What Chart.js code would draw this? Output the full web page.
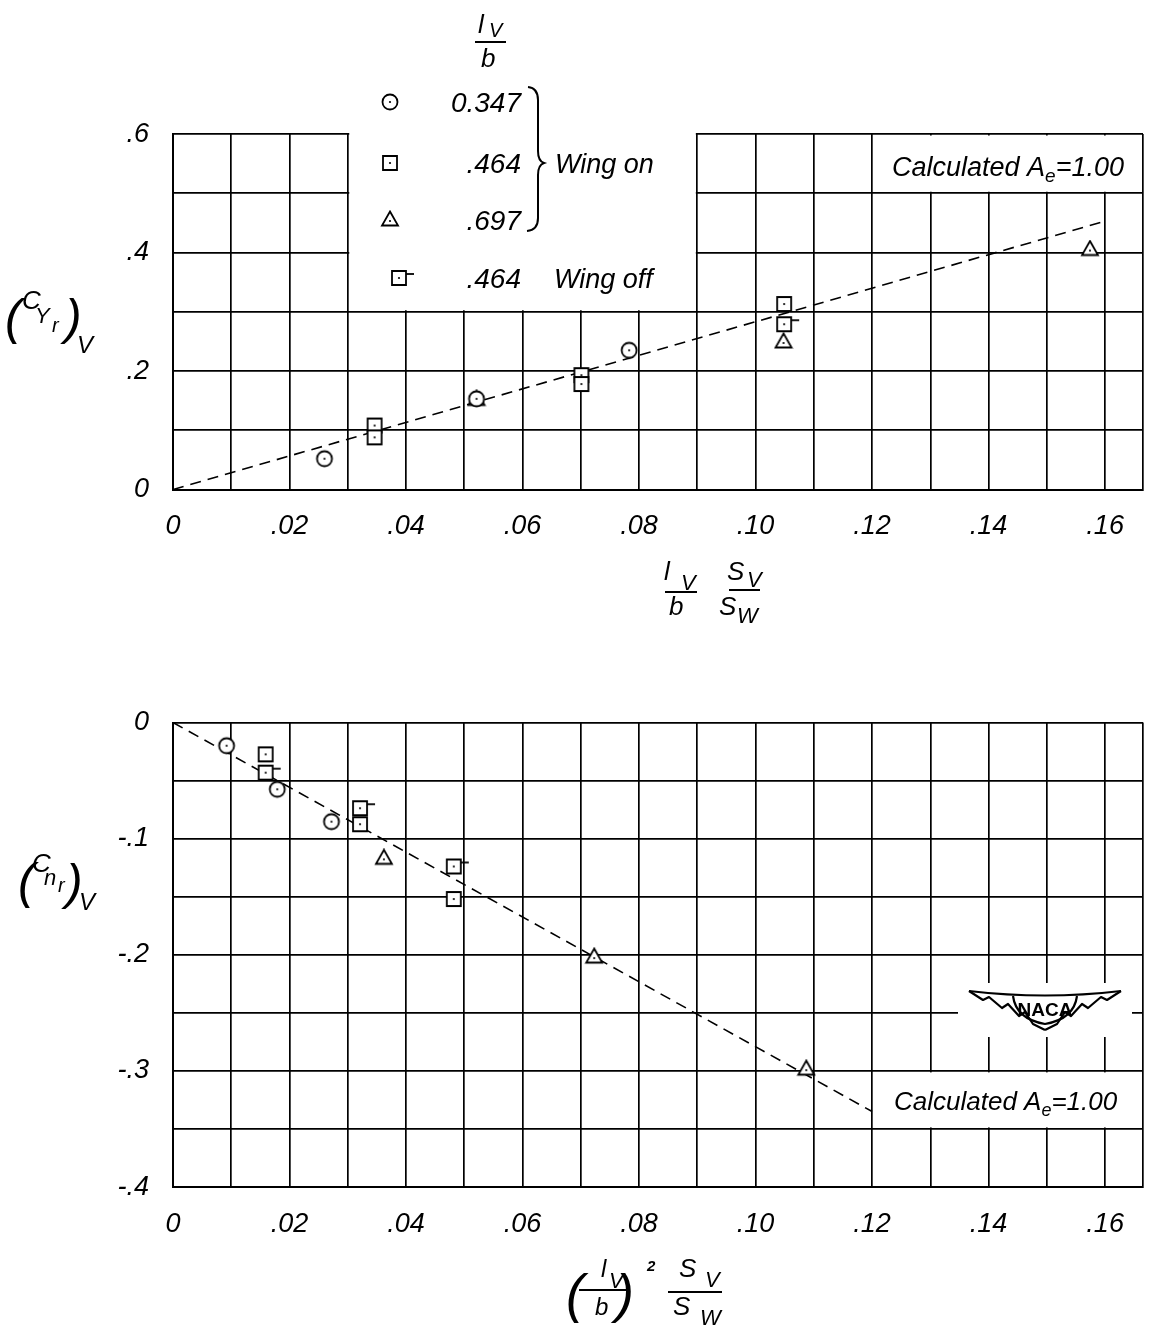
<!DOCTYPE html>
<html><head><meta charset="utf-8">
<script src="https://cdn.jsdelivr.net/npm/chart.js@4.4.1/dist/chart.umd.min.js"></script>
<style>
html,body{margin:0;padding:0;background:#fff;}
body{width:1163px;height:1332px;position:relative;overflow:hidden;}
canvas{position:absolute;left:0;}
#c1{top:0;} #c2{top:650px;}
</style></head><body>
<canvas id="c1" width="1163" height="650"></canvas>
<canvas id="c2" width="1163" height="682"></canvas>
<script>
const FONT = "'Liberation Sans'";

// ---- grid / tick arrays ----
const xFrameMax = 0.1665;
const xGrid = [0, 0.01, 0.02, 0.03, 0.04, 0.05, 0.06, 0.07, 0.08, 0.09, 0.10, 0.11, 0.12, 0.13, 0.14, 0.15, 0.16, xFrameMax];
const xTickValues = [0, 0.02, 0.04, 0.06, 0.08, 0.10, 0.12, 0.14, 0.16];
const xTickLabels = ['0', '.02', '.04', '.06', '.08', '.10', '.12', '.14', '.16'];
const topYGrid = [0, 0.1, 0.2, 0.3, 0.4, 0.5, 0.6];
const topYTickValues = [0, 0.2, 0.4, 0.6];
const topYTickLabels = ['0', '.2', '.4', '.6'];
const botYGrid = [0, -0.05, -0.1, -0.15, -0.2, -0.25, -0.3, -0.35, -0.4];
const botYTickValues = [0, -0.1, -0.2, -0.3, -0.4];
const botYTickLabels = ['0', '-.1', '-.2', '-.3', '-.4'];

// ---- legend ----
const legendRatios = ['0.347', '.464', '.697', '.464'];
const legendGroupOn = 'Wing on';
const legendGroupOff = 'Wing off';
const calcLabel = ['Calculated ', 'A', 'e', '=1.00'];

// ---- top chart: (CYr)V vs lV/b * SV/SW ----
const r347X = [0.026, 0.0521, 0.0783];
const r347CY = [0.052, 0.153, 0.235];
const r464X = [0.0346, 0.0346, 0.0701, 0.0701, 0.1049];
const r464CY = [0.108, 0.088, 0.193, 0.178, 0.313];
const r697X = [0.0521, 0.1048, 0.1574];
const r697CY = [0.152, 0.249, 0.405];
const off464X = [0.1049];
const off464CY = [0.279];
const calcTopX = [0, 0.16];
const calcTopCY = [0, 0.453];

// ---- bottom chart: (Cnr)V vs (lV/b)^2 * SV/SW ----
const r347X2 = [0.0092, 0.0179, 0.0272];
const r347CN = [-0.020, -0.0575, -0.0854];
const r464X2 = [0.0159, 0.0321, 0.0482];
const r464CN = [-0.0274, -0.0876, -0.152];
const r697X2 = [0.0362, 0.0723, 0.1087];
const r697CN = [-0.117, -0.202, -0.2985];
const off464X2 = [0.0159, 0.0321, 0.0482];
const off464CN = [-0.0432, -0.0738, -0.124];
const calcBotX = [0, 0.12];
const calcBotCN = [0, -0.335];

const pts = (xs, ys) => xs.map((x, i) => ({x, y: ys[i]}));
const lookup = (vals, labs) => v => { const i = vals.findIndex(t => Math.abs(t - v) < 1e-6); return i >= 0 ? labs[i] : ''; };

function marker(kind) {
  const flag = kind === 'flag';
  const half = 10, ext = flag ? 9 : 0;
  const w = 2 * (half + ext), h = 2 * half;
  const c = document.createElement('canvas'); c.width = w; c.height = h;
  const g = c.getContext('2d');
  g.translate(w / 2, h / 2);
  g.lineWidth = 1.8; g.strokeStyle = '#000'; g.fillStyle = '#fff';
  g.beginPath();
  if (kind === 'circle') g.arc(0, 0, 7.5, 0, 2 * Math.PI);
  else if (kind === 'triangle') { g.moveTo(0, -8.5); g.lineTo(8, 5.5); g.lineTo(-8, 5.5); g.closePath(); }
  else g.rect(-7, -7, 14, 14);
  g.fill(); g.stroke();
  if (flag) { g.beginPath(); g.moveTo(7, -4); g.lineTo(15, -4); g.stroke(); }
  g.beginPath(); g.arc(0, kind === 'triangle' ? 1 : 0, 1.1, 0, 2 * Math.PI); g.fillStyle = '#000'; g.fill();
  return c;
}
const M = {circle: marker('circle'), square: marker('square'), triangle: marker('triangle'), flag: marker('flag')};

function txt(ctx, s, x, y, size, opts) {
  opts = opts || {};
  ctx.font = (opts.upright ? '' : 'italic ') + (opts.bold ? 'bold ' : '') + size + 'px ' + (opts.family || FONT);
  ctx.textAlign = opts.align || 'left';
  ctx.textBaseline = 'alphabetic';
  ctx.fillStyle = '#000';
  ctx.fillText(s, x, y);
  return ctx.measureText(s).width;
}
function hline(ctx, x1, x2, y, w) {
  ctx.beginPath(); ctx.lineWidth = w || 2; ctx.strokeStyle = '#000';
  ctx.moveTo(x1, y); ctx.lineTo(x2, y); ctx.stroke();
}
function drawCalc(ctx, x, base, size) {
  let cx = x;
  cx += txt(ctx, calcLabel[0], cx, base, size);
  cx += txt(ctx, calcLabel[1], cx, base, size);
  cx += txt(ctx, calcLabel[2], cx, base + 6, Math.round(size * 0.7));
  txt(ctx, calcLabel[3], cx, base, size);
}

function scatterSet(label, data, style) {
  return {label, data, pointStyle: style, pointRadius: 7, showLine: false};
}
function lineSet(label, data) {
  return {label, data, showLine: true, borderColor: '#000', borderWidth: 1.6, borderDash: [11, 7], pointRadius: 0, fill: false};
}
function noPad(s) { s.paddingLeft = 0; s.paddingRight = 0; s.paddingTop = 0; s.paddingBottom = 0; }

function axes(yGrid, yVals, yLabs, xAxisHeight, yMin, yMax) {
  const gridOpt = {color: '#000', lineWidth: 1.7, drawTicks: false};
  const tickFont = {family: FONT, size: 27, style: 'italic'};
  return {
    x: {
      type: 'linear', min: 0, max: xFrameMax,
      afterBuildTicks: s => { s.ticks = xGrid.map(v => ({value: v})); },
      afterFit: s => { s.height = xAxisHeight; noPad(s); },
      grid: gridOpt, border: {color: '#000', width: 2},
      ticks: {autoSkip: false, maxRotation: 0, padding: 21, color: '#000', font: tickFont, callback: lookup(xTickValues, xTickLabels)}
    },
    y: {
      type: 'linear', min: yMin, max: yMax,
      afterBuildTicks: s => { s.ticks = yGrid.map(v => ({value: v})); },
      afterFit: s => { s.width = 173; noPad(s); },
      grid: gridOpt, border: {color: '#000', width: 2},
      ticks: {autoSkip: false, padding: 24, color: '#000', font: tickFont, callback: lookup(yVals, yLabs)}
    }
  };
}

const common = {
  responsive: false, maintainAspectRatio: false, animation: false, events: [],
  plugins: {legend: {display: false}, tooltip: {enabled: false}}
};

// ---------- top chart decorations ----------
const topDecor = {
  id: 'topDecor',
  beforeDatasetsDraw(chart) {
    const {ctx, scales: {x, y}, chartArea: a} = chart;
    ctx.save(); ctx.fillStyle = '#fff';
    const l = x.getPixelForValue(0.03) + 1.5, r = x.getPixelForValue(0.09) - 1.5;
    ctx.fillRect(l, 0, r - l, y.getPixelForValue(0.3) - 1.5);
    const cl = x.getPixelForValue(0.12) + 1.5, cr = a.right - 2, ct = y.getPixelForValue(0.6) + 1.5, cb = y.getPixelForValue(0.5) - 1.5;
    ctx.fillRect(cl, ct, cr - cl, cb - ct);
    ctx.restore();
  },
  afterDraw(chart) {
    const ctx = chart.ctx;
    ctx.save();
    // legend header lV / b
    txt(ctx, 'l', 478, 33, 26);
    txt(ctx, 'V', 489, 37, 20);
    hline(ctx, 475, 506, 42, 2);
    txt(ctx, 'b', 481, 67, 26);
    // legend rows
    const rowsY = [102, 163, 220, 278];
    const styles = [M.circle, M.square, M.triangle, M.flag];
    rowsY.forEach((yy, i) => {
      const st = styles[i];
      const mx = i === 3 ? 399 : 390;
      ctx.drawImage(st, mx - st.width / 2, yy - st.height / 2);
      txt(ctx, legendRatios[i], 521, yy + 10, 28, {align: 'right'});
    });
    // brace
    ctx.beginPath(); ctx.lineWidth = 2; ctx.strokeStyle = '#000';
    ctx.moveTo(528, 87);
    ctx.quadraticCurveTo(538, 88, 538, 100);
    ctx.lineTo(538, 151);
    ctx.quadraticCurveTo(538, 161, 544, 163);
    ctx.quadraticCurveTo(538, 165, 538, 175);
    ctx.lineTo(538, 218);
    ctx.quadraticCurveTo(538, 230, 527, 231);
    ctx.stroke();
    txt(ctx, legendGroupOn, 555, 173, 27);
    txt(ctx, legendGroupOff, 554, 288, 27);
    // calculated label
    drawCalc(ctx, 892, 176, 27);
    // y title (CYr)V
    txt(ctx, '(', 5, 334, 50);
    txt(ctx, 'C', 22, 309, 26);
    txt(ctx, 'Y', 35, 323, 22);
    txt(ctx, 'r', 52, 332, 20);
    txt(ctx, ')', 65, 334, 50);
    txt(ctx, 'V', 77, 353, 24);
    // x title lV/b SV/SW
    txt(ctx, 'l', 664, 580, 26);
    txt(ctx, 'V', 681, 590, 22);
    hline(ctx, 665, 697, 592, 2);
    txt(ctx, 'b', 669, 615, 26);
    txt(ctx, 'S', 727, 580, 26);
    txt(ctx, 'V', 747, 587, 22);
    hline(ctx, 729, 760, 590, 2);
    txt(ctx, 'S', 719, 615, 26);
    txt(ctx, 'W', 737, 623, 22);
    ctx.restore();
  }
};

// ---------- bottom chart decorations ----------
const OFF = 650;
const botDecor = {
  id: 'botDecor',
  beforeDatasetsDraw(chart) {
    const {ctx, scales: {x, y}, chartArea: a} = chart;
    ctx.save(); ctx.fillStyle = '#fff';
    const cl = x.getPixelForValue(0.12) + 1.5, cr = a.right - 2, ct = y.getPixelForValue(-0.30) + 1.5, cb = y.getPixelForValue(-0.35) - 1.5;
    ctx.fillRect(cl, ct, cr - cl, cb - ct);
    ctx.fillRect(958, 983 - OFF, Math.min(a.right - 2, 1132) - 958, 54);
    ctx.restore();
  },
  afterDraw(chart) {
    const ctx = chart.ctx;
    ctx.save();
    ctx.translate(0, -OFF);
    drawCalc(ctx, 894, 1110, 26);
    // NACA logo
    ctx.strokeStyle = '#000'; ctx.lineWidth = 2.2; ctx.lineJoin = 'round';
    ctx.beginPath();
    ctx.moveTo(969, 991); ctx.quadraticCurveTo(1045, 1000, 1121, 991);
    ctx.stroke();
    const wing = s => {
      const c = 1045;
      const p = [[969, 991], [983, 1000], [989, 997], [1002, 1008], [1008, 1004], [1019, 1016], [1025, 1012], [1033, 1024], [1045, 1030]];
      ctx.beginPath();
      p.forEach((q, i) => { const xx = c + s * (q[0] - c); if (i) ctx.lineTo(xx, q[1]); else ctx.moveTo(xx, q[1]); });
      ctx.stroke();
    };
    wing(1); wing(-1);
    ctx.beginPath();
    ctx.moveTo(1013, 996); ctx.quadraticCurveTo(1016, 1019, 1045, 1024); ctx.quadraticCurveTo(1074, 1019, 1077, 996);
    ctx.stroke();
    txt(ctx, 'NACA', 1045, 1016, 19, {upright: true, bold: true, align: 'center'});
    // y title (Cnr)V
    txt(ctx, '(', 18, 898, 50);
    txt(ctx, 'C', 32, 872, 26);
    txt(ctx, 'n', 44, 885, 22);
    txt(ctx, 'r', 58, 892, 20);
    txt(ctx, ')', 66, 899, 50);
    txt(ctx, 'V', 79, 910, 24);
    // x title (lV/b)^2 SV/SW
    txt(ctx, '(', 566, 1312, 54);
    txt(ctx, 'l', 601, 1277, 24);
    txt(ctx, 'V', 609, 1288, 22);
    hline(ctx, 579, 628, 1290, 2);
    txt(ctx, 'b', 595, 1315, 24);
    txt(ctx, ')', 616, 1312, 54);
    txt(ctx, '2', 647, 1271, 15, {bold: true});
    txt(ctx, 'S', 679, 1277, 26);
    txt(ctx, 'V', 705, 1287, 22);
    hline(ctx, 668, 722, 1292, 2);
    txt(ctx, 'S', 673, 1315, 26);
    txt(ctx, 'W', 700, 1325, 22);
    ctx.restore();
  }
};

new Chart(document.getElementById('c1'), {
  type: 'scatter',
  data: {datasets: [
    scatterSet('0.347 Wing on', pts(r347X, r347CY), M.circle),
    scatterSet('.464 Wing on', pts(r464X, r464CY), M.square),
    scatterSet('.697 Wing on', pts(r697X, r697CY), M.triangle),
    scatterSet('.464 Wing off', pts(off464X, off464CY), M.flag),
    lineSet('Calculated Ae=1.00', pts(calcTopX, calcTopCY))
  ]},
  options: Object.assign({}, common, {
    layout: {padding: {top: 134, left: 0, right: 20, bottom: 0}},
    scales: axes(topYGrid, topYTickValues, topYTickLabels, 160.5, 0, 0.6)
  }),
  plugins: [topDecor]
});

new Chart(document.getElementById('c2'), {
  type: 'scatter',
  data: {datasets: [
    scatterSet('0.347 Wing on', pts(r347X2, r347CN), M.circle),
    scatterSet('.464 Wing on', pts(r464X2, r464CN), M.square),
    scatterSet('.697 Wing on', pts(r697X2, r697CN), M.triangle),
    scatterSet('.464 Wing off', pts(off464X2, off464CN), M.flag),
    lineSet('Calculated Ae=1.00', pts(calcBotX, calcBotCN))
  ]},
  options: Object.assign({}, common, {
    layout: {padding: {top: 72.5, left: 0, right: 20, bottom: 0}},
    scales: axes(botYGrid, botYTickValues, botYTickLabels, 145, -0.4, 0)
  }),
  plugins: [botDecor]
});
</script>
</body></html>
